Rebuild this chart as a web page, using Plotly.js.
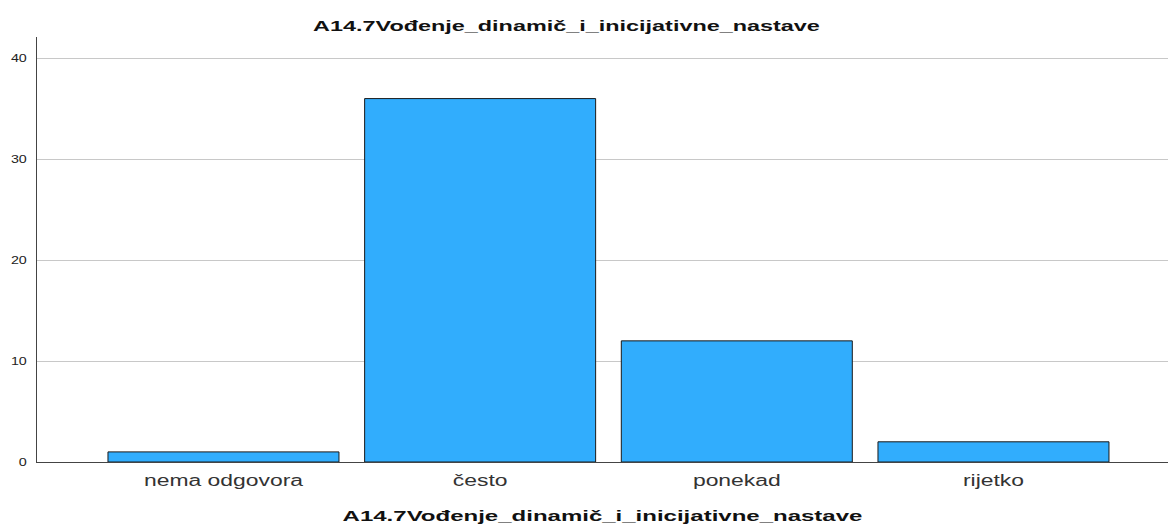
<!DOCTYPE html>
<html><head><meta charset="utf-8">
<script src="https://cdn.plot.ly/plotly-3.0.1.min.js"></script>
<style>html,body{margin:0;padding:0;background:#fff}#chart{width:1168px;height:525px}</style>
</head><body><div id="chart"></div>
<script>
const categories = ["nema odgovora", "često", "ponekad", "rijetko"];
const counts = [1, 36, 12, 2];
const yTicks = [0, 10, 20, 30, 40];
const titleText = "A14.7Vođenje_dinamič_i_inicijativne_nastave";

const trace = {
  type: "bar",
  x: categories,
  y: counts,
  marker: {color: "#31adfd", line: {color: "#1a1a1a", width: 1}},
  hoverinfo: "x+y"
};
const layout = {
  width: 1168, height: 525,
  margin: {l: 37, r: 0, t: 37, b: 63},
  paper_bgcolor: "#fff", plot_bgcolor: "#fff",
  bargap: 0.1,
  font: {family: "Liberation Sans, Arial, sans-serif", color: "#222"},
  title: {text: "<b>" + titleText + "</b>", font: {size: 15, color: "#111"}, xref: "container", x: 0.485, xanchor: "center", yref: "container", y: 0.951, yanchor: "middle"},
  xaxis: {
    range: [-0.7265, 3.68],
    showline: true, linecolor: "#444", linewidth: 1,
    showgrid: false, ticks: "",
    tickfont: {size: 16, color: "#333"},
    ticklabelstandoff: 4,
    title: {text: "<b>" + titleText + "</b>", font: {size: 15, color: "#111"}, standoff: 22}
  },
  yaxis: {
    range: [0, 42.1],
    tickvals: yTicks,
    showline: true, linecolor: "#444", linewidth: 1,
    showgrid: true, gridcolor: "#c8c8c8", gridwidth: 1,
    zeroline: false, ticks: "",
    tickfont: {size: 11, color: "#222"},
    ticklabelstandoff: 7
  },
  showlegend: false
};
function stretch(sel, factor) {
  document.querySelectorAll(sel).forEach(function (t) {
    const w = t.getComputedTextLength();
    if (w > 0) {
      t.setAttribute("textLength", (w * factor).toFixed(1));
      t.setAttribute("lengthAdjust", "spacingAndGlyphs");
    }
  });
}
Plotly.newPlot("chart", [trace], layout, {displayModeBar: false, staticPlot: true}).then(function () {
  stretch(".gtitle", 1.56);
  stretch(".g-xtitle text", 1.6);
  stretch(".xtick text", 1.43);
  stretch(".ytick text", 1.3);
});
</script></body></html>
